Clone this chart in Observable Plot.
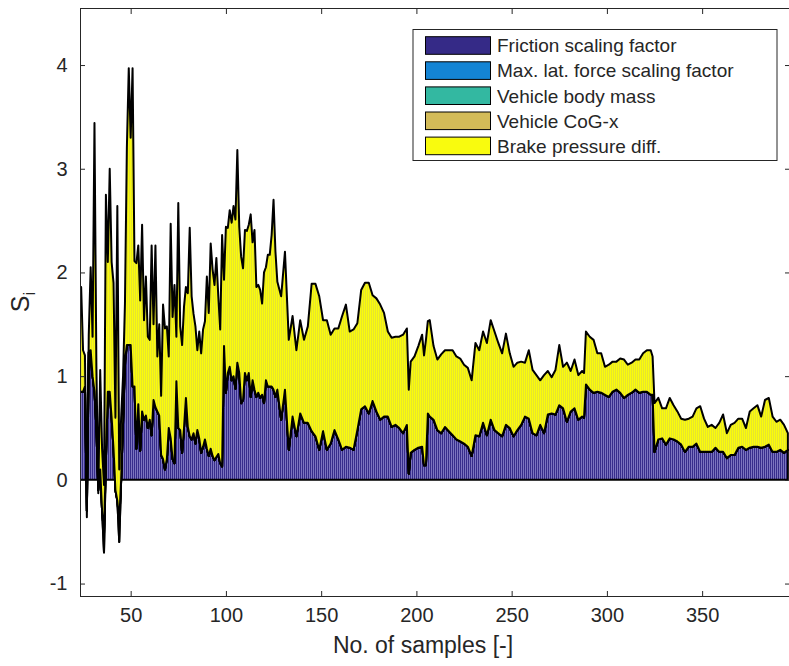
<!DOCTYPE html>
<html>
<head>
<meta charset="utf-8">
<script src="https://cdn.jsdelivr.net/npm/d3@7"></script>
<script src="https://cdn.jsdelivr.net/npm/@observablehq/plot@0.6"></script>
<style>
  body { margin: 0; background: #ffffff; }
  #chart { width: 789px; height: 666px; }
  #chart svg { display: block; }
</style>
</head>
<body>
<div id="chart"></div>
<script>
// ---- data ----
const samples = [
  23,24,25,26,27,28,29,30,31,32,
  33,34,35,36,37,38,39,40,41,42,
  43,44,45,46,47,48,49,50,51,52,
  53,54,55,56,57,58,59,60,61,62,
  63,64,65,66,67,68,69,70,71,72,
  73,74,75,76,77,78,79,80,81,82,
  83,84,85,86,87,88,89,90,91,92,
  93,94,95,96,97,98,99,100,101,102,
  103,104,105,106,107,108,109,110,111,112,
  113,114,115,116,117,118,119,120,121,122,
  123,124,125,126,
  127,129,131,133,135,137,139,141,143,145,
  147,149,151,153,155,157,159,161,163,165,
  167,169,171,173,175,177,179,181,183,185,
  187,189,191,193,195,196,197,199,201,203,
  204,205,206,207,209,211,213,215,217,219,
  221,223,225,227,229,231,233,235,237,239,
  241,243,245,247,249,251,253,255,257,259,
  261,263,265,267,269,271,273,275,277,279,
  281,283,285,287,288,289,291,293,295,297,
  299,301,303,305,307,309,311,313,315,317,
  319,321,323,324,325,327,329,331,333,335,
  337,339,341,343,345,347,349,351,353,355,
  357,359,361,363,365,367,369,371,373,375,
  377,379,381,383,385,387,389,391,393,395
];

const friction = [
  0.85,0.85,0.85,0.9,-0.3,1.15,1.15,1.0,0.85,0.5,
  -0.1,0.1,-0.3,-0.7,0.2,0.85,0.85,0.6,0.3,-0.1,
  -0.2,-0.6,0.0,0.55,1.1,1.3,1.3,1.3,0.9,0.9,
  0.3,0.73,0.28,0.66,0.58,0.62,0.5,0.58,0.43,0.77,
  0.7,0.66,0.62,0.24,0.2,0.1,0.2,0.5,0.4,0.2,
  0.16,0.95,0.5,0.48,0.26,0.5,0.79,0.51,0.42,0.39,
  0.45,0.35,0.48,0.4,0.26,0.32,0.39,0.3,0.23,0.3,
  0.23,0.19,0.22,0.25,0.16,0.13,1.29,0.84,1.03,1.09,
  0.96,1.0,0.88,1.13,1.03,0.74,0.77,1.03,0.96,1.03,
  0.8,0.96,0.87,0.8,0.84,0.79,0.82,0.74,0.96,0.9,
  0.9,0.9,0.87,0.8,
  0.87,0.58,0.87,0.29,0.61,0.42,0.64,0.55,0.55,0.47,
  0.42,0.29,0.47,0.29,0.35,0.48,0.39,0.29,0.32,0.31,
  0.29,0.48,0.68,0.71,0.64,0.76,0.66,0.58,0.61,0.61,
  0.51,0.53,0.50,0.45,0.53,0.06,0.26,0.29,0.31,0.32,
  0.14,0.14,0.64,0.61,0.58,0.48,0.45,0.51,0.47,0.43,
  0.39,0.37,0.35,0.32,0.23,0.43,0.42,0.55,0.43,0.58,
  0.48,0.45,0.42,0.53,0.50,0.42,0.48,0.53,0.61,0.59,
  0.45,0.43,0.53,0.45,0.63,0.64,0.63,0.72,0.69,0.56,
  0.66,0.69,0.58,0.61,0.60,0.92,0.87,0.84,0.85,0.84,
  0.82,0.80,0.85,0.87,0.84,0.79,0.82,0.84,0.87,0.84,
  0.85,0.85,0.82,0.82,0.27,0.39,0.40,0.34,0.40,0.39,
  0.37,0.34,0.27,0.32,0.32,0.35,0.27,0.27,0.27,0.27,
  0.31,0.27,0.27,0.21,0.24,0.24,0.31,0.32,0.29,0.31,
  0.32,0.32,0.31,0.32,0.34,0.27,0.27,0.29,0.26,0.29
];

const maxLatForce = [
  0,0,0,0,0,0.08,0.1,0,0,0,
  0,0,0,0.18,0,0,0,0,0,0,
  0,0.2,0,0,0.05,0,0,0,0,0,
  0,0,0,0,0,0,0,0,0,0,0,0,0,0,0,0,0,0,0,0,
  0,0,0,0,0,0,0,0,0,0,0,0,0,0,0,0,0,0,0,0,
  0,0,0,0,0,0,0,0,0,0,0,0,0,0,0,0,0,0,0,0,
  0,0,0,0,0,0,0,0,0,0,0,0,0,0,0,0,0,0,0,0,
  0,0,0,0,0,0,0,0,0,0,0,0,0,0,0,0,0,0,0,0,
  0,0,0,0,0,0,0,0,0,0,0,0,0,0,0,0,0,0,0,0,
  0,0,0,0,0,0,0,0,0,0,0,0,0,0,0,0,0,0,0,0,
  0,0,0,0,0,0,0,0,0,0,0,0,0,0,0,0,0,0,0,0,
  0,0,0,0,0,0,0,0,0,0,0,0,0,0,0,0,0,0,0,0,
  0,0,0,0,0,0,0,0,0,0,0,0,0,0,0,0,0,0,0,0,
  0,0,0,0,0,0,0,0,0,0,0,0,0,0
];

const bodyMass = [
  0,0,0,0,0,0,0,0,0,0,0,0,0,0,0,0,0,0,0,0,
  0,0,0,0,0,0,0,0,0,0,0,0,0,0,0,0,0,0,0,0,
  0,0,0,0,0,0,0,0,0,0,0,0,0,0,0,0,0,0,0,0,
  0,0,0,0,0,0,0,0,0,0,0,0,0,0,0,0,0,0,0,0,
  0,0,0,0,0,0,0,0,0,0,0,0,0,0,0,0,0,0,0,0,
  0,0,0,0,0,0,0,0,0,0,0,0,0,0,0,0,0,0,0,0,
  0,0,0,0,0,0,0,0,0,0,0,0,0,0,0,0,0,0,0,0,
  0,0,0,0,0,0,0,0,0,0,0,0,0,0,0,0,0,0,0,0,
  0,0,0,0,0,0,0,0,0,0,0,0,0,0,0,0,0,0,0,0,
  0,0,0,0,0,0,0,0,0,0,0,0,0,0,0,0,0,0,0,0,
  0,0,0,0,0,0,0,0,0,0,0,0,0,0,0,0,0,0,0,0,
  0,0,0,0,0,0,0,0,0,0,0,0,0,0,0,0,0,0,0,0,
  0,0,0,0
];

const cogX = [
  0,0,0,0,0,0,0,0,0,0,0,0,0,0,0,0,0,0,0,0,
  0,0,0,0,0,0,0,0,0,0,0,0,0,0,0,0,0,0,0,0,
  0,0,0,0,0,0,0,0,0,0,0,0,0,0,0,0,0,0,0,0,
  0,0,0,0,0,0,0,0,0,0,0,0,0,0,0,0,0,0,0,0,
  0,0,0,0,0,0,0,0,0,0,0,0,0,0,0,0,0,0,0,0,
  0,0,0,0,0,0,0,0,0,0,0,0,0,0,0,0,0,0,0,0,
  0,0,0,0,0,0,0,0,0,0,0,0,0,0,0,0,0,0,0,0,
  0,0,0,0,0,0,0,0,0,0,0,0,0,0,0,0,0,0,0,0,
  0,0,0,0,0,0,0,0,0,0,0,0,0,0,0,0,0,0,0,0,
  0,0,0,0,0,0,0,0,0,0,0,0,0,0,0,0,0,0,0,0,
  0,0,0,0,0,0,0,0,0,0,0,0,0,0,0,0,0,0,0,0,
  0,0,0,0,0,0,0,0,0,0,0,0,0,0,0,0,0,0,0,0,
  0,0,0,0
];

const brakePressure = [
  1.01,1.01,0.40,0.30,-0.06,0.17,0.80,0.38,2.59,0.60,
  -0.03,0.96,0.60,0.47,2.55,1.25,2.15,1.50,1.60,0.70,
  2.84,0.50,0.60,0.45,0.55,1.90,2.67,2.00,3.07,1.21,
  1.79,1.53,1.45,1.80,0.96,1.34,0.88,0.77,1.83,0.73,
  1.56,0.53,0.88,0.57,1.49,1.36,1.28,0.69,2.07,1.37,
  1.72,0.43,2.17,1.00,1.04,1.17,1.07,1.29,2.01,1.38,
  1.15,1.13,0.77,1.03,0.96,1.13,1.14,1.66,1.38,1.98,
  1.80,1.69,1.92,1.52,1.29,2.23,0.64,1.60,1.40,1.51,
  1.52,1.64,1.63,2.05,1.41,1.41,1.27,1.38,1.44,1.43,
  1.76,1.33,1.54,1.06,1.04,1.04,0.88,1.26,1.09,1.27,
  1.27,1.46,1.83,1.40,
  1.04,1.19,1.33,1.06,0.97,0.83,0.90,0.80,0.93,1.42,
  1.47,1.48,1.07,1.25,1.05,0.98,1.07,1.29,1.37,1.12,
  1.16,1.03,1.15,1.19,1.26,1.02,1.09,1.11,1.00,0.82,
  0.86,0.85,0.88,0.95,0.93,0.81,0.88,0.90,0.98,1.08,
  1.06,1.21,0.89,0.93,0.71,0.68,0.76,0.74,0.78,0.82,
  0.80,0.80,0.76,0.76,0.73,0.89,0.83,0.88,0.89,0.96,
  0.95,0.87,0.80,0.88,0.72,0.67,0.65,0.61,0.52,0.66,
  0.61,0.58,0.43,0.56,0.42,0.35,0.43,0.58,0.40,0.57,
  0.39,0.47,0.43,0.44,0.43,0.51,0.51,0.51,0.37,0.38,
  0.27,0.31,0.29,0.27,0.33,0.37,0.29,0.29,0.29,0.32,
  0.37,0.40,0.43,0.37,0.47,0.40,0.29,0.35,0.39,0.33,
  0.29,0.25,0.31,0.27,0.29,0.34,0.44,0.32,0.24,0.26,
  0.19,0.28,0.36,0.24,0.29,0.31,0.28,0.27,0.21,0.35,
  0.37,0.40,0.30,0.45,0.45,0.34,0.29,0.29,0.27,0.16
];

const seriesNames = [
  "Friction scaling factor",
  "Max. lat. force scaling factor",
  "Vehicle body mass",
  "Vehicle CoG-x",
  "Brake pressure diff."
];
const seriesColors = ["#352a87", "#1484d4", "#33b8a1", "#d3bb58", "#f9fb0e"];
const xTicks = [50, 100, 150, 200, 250, 300, 350];
const yTicks = [-1, 0, 1, 2, 3, 4];

// ---- MATLAB-style cumulative stacking (each layer from previous sum to new sum) ----
const layers = [friction, maxLatForce, bodyMass, cogX, brakePressure];
let cum = samples.map(() => 0);
const layerRows = layers.map((vals) => {
  const next = samples.map((s, i) => cum[i] + (vals[i] ?? 0));
  const rows = samples.map((s, i) => ({x: s, lo: cum[i], hi: next[i]}));
  cum = next;
  return rows;
});

const FONT = "'Liberation Sans', Arial, Helvetica, sans-serif";
const INK = "#262626";
const fillIds = ["stripeFriction", null, null, null, "stripeBrake"];

const plot = Plot.plot({
  width: 789,
  height: 666,
  marginLeft: 80,
  marginRight: 0,
  marginTop: 8,
  marginBottom: 70,
  style: {fontFamily: FONT, color: INK, background: "#ffffff", overflow: "visible"},
  x: {domain: [23.4, 395.6]},
  y: {domain: [-1.12, 4.55]},
  marks: [
    ...layerRows.map((rows, k) =>
      Plot.areaY(rows, {
        x: "x", y1: "lo", y2: "hi",
        fill: fillIds[k] ? `url(#${fillIds[k]})` : seriesColors[k],
        stroke: "#000000",
        strokeWidth: 2,
        strokeLinejoin: "round",
        clip: true
      })
    ),
    Plot.frame({stroke: INK, strokeWidth: 1}),
    Plot.axisX(xTicks, {anchor: "bottom", tickSize: -5, tickPadding: 16, fontSize: 20, label: null}),
    Plot.axisX(xTicks, {anchor: "top", tickSize: -5, tickFormat: () => "", label: null}),
    Plot.axisY(yTicks, {anchor: "left", tickSize: -5, tickPadding: 18, fontSize: 20, label: null,
      tickFormat: (d) => String(d)}),
    Plot.axisY(yTicks, {anchor: "right", tickSize: -5, tickFormat: () => "", label: null})
  ]
});

const svg = d3.select(plot);

// striped fills imitating the MATLAB bar-edge texture
const defs = svg.insert("defs", ":first-child");
function stripe(id, c1, c2) {
  const p = defs.append("pattern").attr("id", id).attr("patternUnits", "userSpaceOnUse")
    .attr("width", 2).attr("height", 8);
  p.append("rect").attr("width", 2).attr("height", 8).attr("fill", c1);
  p.append("rect").attr("x", 1).attr("width", 1).attr("height", 8).attr("fill", c2);
}
stripe("stripeFriction", "#372d8c", "#7c75bf");
stripe("stripeBrake", "#fafb0c", "#e6e42e");

document.getElementById("chart").appendChild(plot);

// axis titles
svg.append("text")
  .attr("x", 423).attr("y", 653)
  .attr("text-anchor", "middle")
  .attr("font-family", FONT).attr("font-size", 23).attr("fill", INK)
  .text("No. of samples [-]");

const yl = svg.append("text")
  .attr("transform", "translate(29,302) rotate(-90)")
  .attr("text-anchor", "middle")
  .attr("font-family", FONT).attr("font-size", 25).attr("fill", INK);
yl.append("tspan").text("S");
yl.append("tspan").attr("font-size", 17).attr("dy", "0.35em").text("i");

// legend
const lg = svg.append("g").attr("font-family", FONT).attr("text-anchor", "start");
lg.append("rect").attr("x", 413).attr("y", 29.5).attr("width", 364).attr("height", 131)
  .attr("fill", "#ffffff").attr("stroke", INK).attr("stroke-width", 1);
seriesNames.forEach((name, i) => {
  const cy = 45.5 + i * 25.1;
  lg.append("rect").attr("x", 425.5).attr("y", cy - 8.8).attr("width", 65).attr("height", 17.6)
    .attr("fill", seriesColors[i]).attr("stroke", "#000000").attr("stroke-width", 1);
  lg.append("text").attr("x", 497).attr("y", cy).attr("dy", "0.36em")
    .attr("text-anchor", "start")
    .attr("font-size", 19).attr("fill", INK).text(name);
});
</script>
</body>
</html>
